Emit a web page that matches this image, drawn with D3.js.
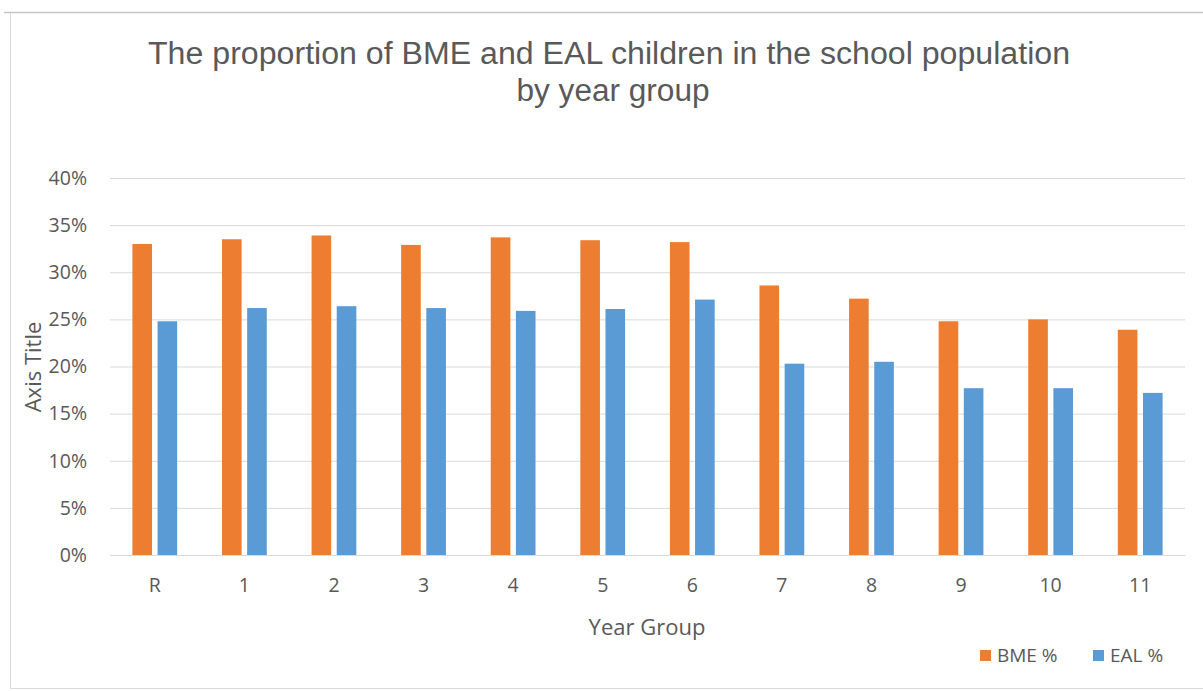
<!DOCTYPE html>
<html><head><meta charset="utf-8">
<script src="https://cdn.jsdelivr.net/npm/d3@7"></script>
<style>
html,body{margin:0;padding:0;background:#fff;}
svg{display:block;}
</style></head>
<body>
<svg id="chart" width="1203" height="691"></svg>
<script>
const categories = ["R","1","2","3","4","5","6","7","8","9","10","11"];
const seriesNames = ["BME %","EAL %"];
const bmeValues = [0.330,0.335,0.339,0.329,0.337,0.334,0.332,0.286,0.272,0.248,0.250,0.239];
const ealValues = [0.248,0.262,0.264,0.262,0.259,0.261,0.271,0.203,0.205,0.177,0.177,0.172];
const yTicks = [0,0.05,0.10,0.15,0.20,0.25,0.30,0.35,0.40];
const colors = ["#ED7D31","#5B9BD5"];

const svg = d3.select("#chart");
const W = 1203, H = 691;
const m = {left:110, right:1185, top:178, bottom:555};
const font = "'Open Sans', 'Liberation Sans', sans-serif";

// frame
svg.append("rect").attr("x",10.5).attr("y",12.5).attr("width",1200).attr("height",676)
  .attr("fill","#fff").attr("stroke","#d9d9d9").attr("stroke-width",1);
svg.append("line").attr("x1",4).attr("x2",W).attr("y1",12.5).attr("y2",12.5)
  .attr("stroke","#c6c6c6").attr("stroke-width",1.5);

const x0 = d3.scaleBand().domain(categories).range([m.left,m.right]).paddingInner(0.5).paddingOuter(0.25);
const x1 = d3.scaleBand().domain(seriesNames).range([0,x0.bandwidth()]).paddingInner(0.22);
const y = d3.scaleLinear().domain([0,0.40]).range([m.bottom,m.top]);

// gridlines
const yAxis = d3.axisLeft(y).tickValues(yTicks).tickFormat(d3.format(".0%")).tickSize(-(m.right-m.left)).tickPadding(23);
const gy = svg.append("g").attr("transform",`translate(${m.left},0)`).call(yAxis);
gy.select(".domain").remove();
gy.selectAll(".tick line").attr("stroke","#d9d9d9").attr("stroke-width",1);
gy.selectAll(".tick text").attr("fill","#595959").style("font-family",font).style("font-size","19.5px");

// bars
const data = categories.map((c,i)=>({cat:c, vals:[bmeValues[i], ealValues[i]]}));
const groups = svg.append("g").selectAll("g").data(data).join("g")
  .attr("transform",d=>`translate(${x0(d.cat)},0)`);
groups.selectAll("rect").data(d=>d.vals.map((v,j)=>({s:seriesNames[j],v,j}))).join("rect")
  .attr("x",d=>x1(d.s)).attr("width",x1.bandwidth())
  .attr("y",d=>y(d.v)).attr("height",d=>y(0)-y(d.v))
  .attr("fill",d=>colors[d.j]);

// x axis
const xAxis = d3.axisBottom(x0).tickSize(0).tickPadding(23);
const gx = svg.append("g").attr("transform",`translate(0,${m.bottom})`).call(xAxis);
gx.select(".domain").attr("stroke","#d9d9d9");
gx.selectAll(".tick text").attr("fill","#595959").style("font-family",font).style("font-size","19.5px");

// title
const title = svg.append("text").attr("text-anchor","middle").attr("fill","#595959")
  .style("font-family","'Liberation Sans', Arial, sans-serif").style("font-size","31px");
title.append("tspan").attr("x",609).attr("y",64).text("The proportion of BME and EAL children in the school population")
  .attr("textLength",922).attr("lengthAdjust","spacingAndGlyphs");
title.append("tspan").attr("x",613).attr("y",101).text("by year group")
  .attr("textLength",193).attr("lengthAdjust","spacingAndGlyphs");

// axis titles
svg.append("text").attr("x",647).attr("y",635).attr("text-anchor","middle").attr("fill","#595959")
  .style("font-family",font).style("font-size","22px").text("Year Group");
svg.append("text").attr("transform","translate(41,367) rotate(-90)").attr("text-anchor","middle").attr("fill","#595959")
  .style("font-family",font).style("font-size","22px").text("Axis Title");

// legend
const legX = [980,1093];
const leg = svg.append("g").selectAll("g").data(seriesNames).join("g")
  .attr("transform",(d,i)=>`translate(${legX[i]},650)`);
leg.append("rect").attr("width",11).attr("height",11).attr("fill",(d,i)=>colors[i]);
leg.append("text").attr("x",17).attr("y",12).attr("fill","#595959")
  .style("font-family",font).style("font-size","19px").text(d=>d);
</script>
</body></html>
